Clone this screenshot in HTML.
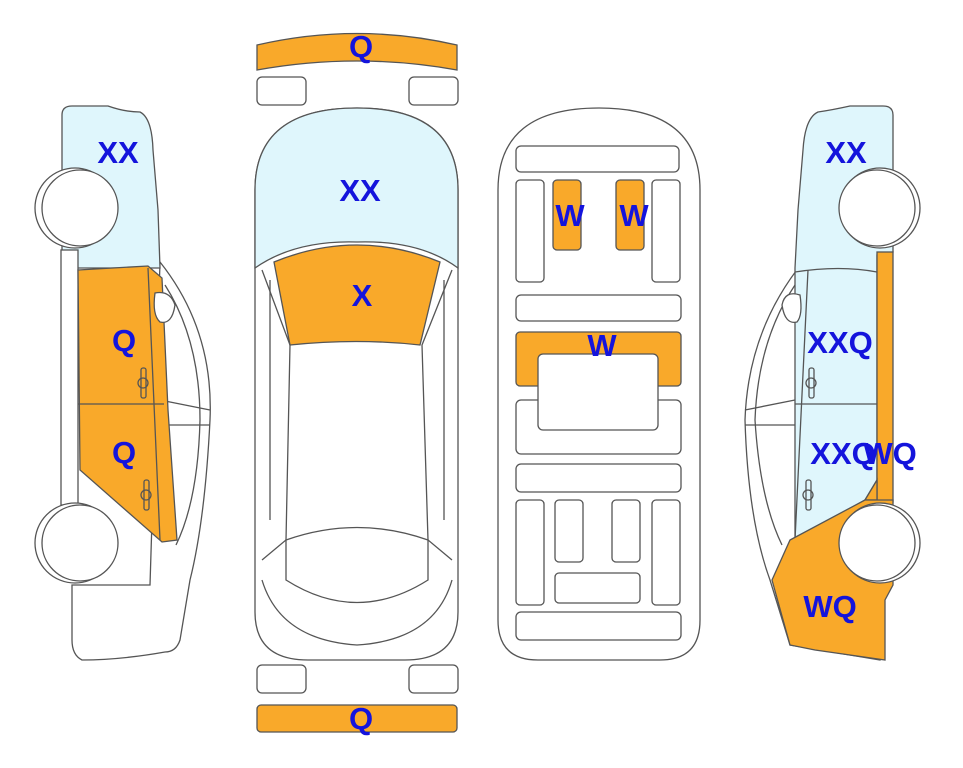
<!DOCTYPE html>
<html><head><meta charset="utf-8"><style>
html,body{margin:0;padding:0;background:#fff;}
svg{display:block}
text{font-family:"Liberation Sans",sans-serif;font-weight:bold;font-size:31px;fill:#1414dc;text-anchor:middle;}
</style></head><body>
<svg width="963" height="768" viewBox="0 0 963 768" xmlns="http://www.w3.org/2000/svg">
<g stroke="#555" stroke-width="1.3" fill="none">
<!-- LEFT CAR -->
<path d="M160,262 Q214,330 210,420 Q205,520 190,580 L180,640 Q176,652 165,652 Q120,660 82,660 Q72,655 72,640 L72,585 L150,585 Z" fill="#fff"/>
<path d="M165,285 Q200,340 200,420 Q198,500 176,545" />
<path d="M160,400 L210,410 M160,425 L210,425" />
<path d="M62,115 Q62,106 72,106 L108,106 Q125,112 140,112 Q152,118 153,150 L158,210 L160,268 L78,268 L62,252 Z" fill="#dff6fc"/>
<rect x="61" y="250" width="17" height="255" fill="#fff"/>
<path d="M78,270 L148,266 L162,278 L168,410 L177,540 L162,542 L80,470 Z" fill="#f9a92a"/>
<path d="M78,404 L164,404 M148,268 L160,540" />
<path d="M155,293 Q170,290 175,305 Q172,325 160,322 Q152,315 155,293 Z" fill="#fff"/>
<rect x="141" y="368" width="5" height="30" rx="2"/><circle cx="143" cy="383" r="5"/>
<rect x="144" y="480" width="5" height="30" rx="2"/><circle cx="146" cy="495" r="5"/>
<circle cx="75" cy="208" r="40" fill="#fff"/><circle cx="80" cy="208" r="38" fill="#fff"/>
<circle cx="75" cy="543" r="40" fill="#fff"/><circle cx="80" cy="543" r="38" fill="#fff"/>

<!-- CENTER TOP CAR -->
<path d="M257,45 Q357,22 457,45 L457,70 Q357,52 257,70 Z" fill="#f9a92a"/>
<rect x="257" y="77" width="49" height="28" rx="5" fill="#fff"/>
<rect x="409" y="77" width="49" height="28" rx="5" fill="#fff"/>
<path d="M255,190 Q255,108 357,108 Q458,108 458,190 L458,612 Q458,660 405,660 L308,660 Q255,660 255,612 Z" fill="#fff"/>
<path d="M255,190 Q255,108 357,108 Q458,108 458,190 L458,268 Q420,240 357,242 Q295,240 255,268 Z" fill="#dff6fc"/>
<path d="M274,262 Q357,228 440,262 L420,345 Q357,338 290,345 Z" fill="#f9a92a"/>
<path d="M262,270 L290,345 L286,540 L262,560 M452,270 L422,345 L428,540 L452,560"/>
<path d="M270,280 L270,520 M444,280 L444,520"/>
<path d="M286,540 Q357,515 428,540 L428,580 Q357,625 286,580 Z"/>
<path d="M262,580 Q280,640 357,645 Q435,640 452,580"/>
<rect x="257" y="665" width="49" height="28" rx="5" fill="#fff"/>
<rect x="409" y="665" width="49" height="28" rx="5" fill="#fff"/>
<rect x="257" y="705" width="200" height="27" rx="4" fill="#f9a92a"/>

<!-- CENTER INTERIOR -->
<path d="M498,190 Q498,108 599,108 Q700,108 700,190 L700,620 Q700,660 660,660 L538,660 Q498,660 498,620 Z" fill="#fff"/>
<rect x="516" y="146" width="163" height="26" rx="5"/>
<rect x="516" y="180" width="28" height="102" rx="4"/>
<rect x="652" y="180" width="28" height="102" rx="4"/>
<rect x="553" y="180" width="28" height="70" rx="4" fill="#f9a92a"/>
<rect x="616" y="180" width="28" height="70" rx="4" fill="#f9a92a"/>
<rect x="516" y="295" width="165" height="26" rx="5"/>
<rect x="516" y="400" width="165" height="54" rx="5"/>
<rect x="516" y="332" width="165" height="54" rx="4" fill="#f9a92a"/>
<rect x="538" y="354" width="120" height="76" rx="5" fill="#fff"/>
<rect x="516" y="464" width="165" height="28" rx="5"/>
<rect x="516" y="500" width="28" height="105" rx="4"/>
<rect x="555" y="500" width="28" height="62" rx="4"/>
<rect x="612" y="500" width="28" height="62" rx="4"/>
<rect x="652" y="500" width="28" height="105" rx="4"/>
<rect x="555" y="573" width="85" height="30" rx="4"/>
<rect x="516" y="612" width="165" height="28" rx="5"/>

<!-- RIGHT CAR -->
<path d="M803,262 Q748,330 745,420 Q748,520 770,580 L790,645 L880,660 L885,585 Z" fill="#fff"/>
<path d="M795,285 Q758,340 755,420 Q760,500 782,545"/>
<path d="M795,400 L745,410 M795,425 L745,425"/>
<path d="M893,115 Q893,106 883,106 L850,106 Q832,110 818,112 Q805,118 803,150 L798,210 L795,268 L795,540 L865,500 L877,480 L877,255 L893,252 Z" fill="#dff6fc"/>
<path d="M795,272 Q840,265 877,272 M795,404 L877,404 M808,270 L795,540"/>
<rect x="877" y="252" width="16" height="250" fill="#f9a92a"/>
<path d="M865,500 L877,480 L877,500 Z" fill="#f9a92a"/>
<path d="M772,580 L790,540 L865,500 L893,500 L893,585 L885,600 L885,660 L815,650 L790,645 Z" fill="#f9a92a"/>
<path d="M800,295 Q785,290 782,305 Q785,325 797,322 Q803,315 800,295 Z" fill="#fff"/>
<rect x="809" y="368" width="5" height="30" rx="2"/><circle cx="811" cy="383" r="5"/>
<rect x="806" y="480" width="5" height="30" rx="2"/><circle cx="808" cy="495" r="5"/>
<circle cx="880" cy="208" r="40" fill="#fff"/><circle cx="877" cy="208" r="38" fill="#fff"/>
<circle cx="880" cy="543" r="40" fill="#fff"/><circle cx="877" cy="543" r="38" fill="#fff"/>
</g>
<text x="118" y="163">XX</text>
<text x="124" y="351">Q</text>
<text x="124" y="463">Q</text>
<text x="361" y="57">Q</text>
<text x="360" y="201">XX</text>
<text x="362" y="306">X</text>
<text x="570" y="226">W</text>
<text x="634" y="226">W</text>
<text x="602" y="356">W</text>
<text x="361" y="729">Q</text>
<text x="846" y="163">XX</text>
<text x="840" y="353">XXQ</text>
<text x="843" y="464">XXQ</text>
<text x="890" y="464">WQ</text>
<text x="830" y="617">WQ</text>
</svg>
</body></html>
